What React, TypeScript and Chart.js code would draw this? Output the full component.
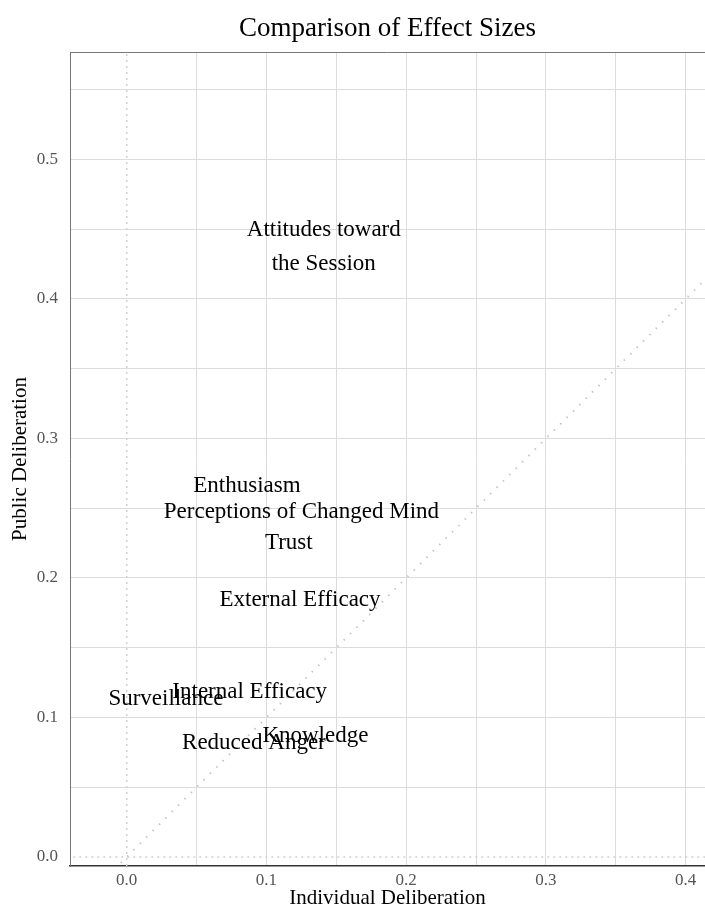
import React, { useEffect, useRef } from 'react';
import { Chart, registerables } from 'chart.js';

Chart.register(...registerables);

const TITLE = 'Comparison of Effect Sizes';
const X_TITLE = 'Individual Deliberation';
const Y_TITLE = 'Public Deliberation';

const OUTCOMES = [
  'Attitudes toward\nthe Session',
  'Enthusiasm',
  'Perceptions of Changed Mind',
  'Trust',
  'External Efficacy',
  'Internal Efficacy',
  'Surveillance',
  'Knowledge',
  'Reduced Anger',
];
const INDIVIDUAL = [0.141, 0.086, 0.125, 0.116, 0.124, 0.088, 0.028, 0.135, 0.091];
const PUBLIC = [0.437, 0.266, 0.247, 0.225, 0.184, 0.118, 0.113, 0.087, 0.082];

const X_TICKS = [0, 0.05, 0.1, 0.15, 0.2, 0.25, 0.3, 0.35, 0.4];
const Y_TICKS = [0, 0.05, 0.1, 0.15, 0.2, 0.25, 0.3, 0.35, 0.4, 0.45, 0.5, 0.55];
const X_MIN = -0.0406;
const X_MAX = 0.4138;
const Y_MIN = -0.0065;
const Y_MAX = 0.577;
const DIAG = [-0.1, 0.7];
const ZERO_SPAN = [-1, 1];

const SERIF = '"Liberation Serif", "Times New Roman", serif';

const isMajor = (v: number) => Math.abs(v * 10 - Math.round(v * 10)) < 1e-6;

const overlayPlugin = {
  id: 'overlay',
  afterDatasetsDraw(chart: any) {
    const { ctx, chartArea } = chart;
    const meta = chart.getDatasetMeta(3);
    ctx.save();
    // top border
    ctx.strokeStyle = '#777777';
    ctx.lineWidth = 1;
    ctx.beginPath();
    ctx.moveTo(chartArea.left, chartArea.top + 0.5);
    ctx.lineTo(chartArea.right, chartArea.top + 0.5);
    ctx.stroke();
    // labels
    ctx.fillStyle = '#000000';
    ctx.textAlign = 'center';
    ctx.textBaseline = 'middle';
    ctx.font = '23px ' + SERIF;
    meta.data.forEach((pt: any, i: number) => {
      const lines = OUTCOMES[i].split('\n');
      const lh = 34;
      lines.forEach((ln, j) => {
        ctx.fillText(ln, pt.x, pt.y + (j - (lines.length - 1) / 2) * lh);
      });
    });
    // title
    ctx.font = '27px ' + SERIF;
    ctx.fillText(TITLE, (chartArea.left + chartArea.right) / 2, 29);
    ctx.restore();
  },
};

export default function App() {
  const ref = useRef<HTMLCanvasElement | null>(null);

  useEffect(() => {
    if (!ref.current) return;
    const chart = new Chart(ref.current, {
      type: 'scatter',
      data: {
        datasets: [
          {
            type: 'line',
            data: [
              { x: DIAG[0], y: DIAG[0] },
              { x: DIAG[1], y: DIAG[1] },
            ],
            borderColor: '#c8c8c8',
            borderWidth: 2,
            borderDash: [1.5, 7.5],
            pointRadius: 0,
            fill: false,
          },
          {
            type: 'line',
            data: [
              { x: 0, y: ZERO_SPAN[0] },
              { x: 0, y: ZERO_SPAN[1] },
            ],
            borderColor: '#d0d0d0',
            borderWidth: 1.5,
            borderDash: [2, 4],
            pointRadius: 0,
            fill: false,
          },
          {
            type: 'line',
            data: [
              { x: ZERO_SPAN[0], y: 0 },
              { x: ZERO_SPAN[1], y: 0 },
            ],
            borderColor: '#d0d0d0',
            borderWidth: 1.5,
            borderDash: [2, 4],
            pointRadius: 0,
            fill: false,
          },
          {
            data: INDIVIDUAL.map((x, i) => ({ x, y: PUBLIC[i] })),
            pointRadius: 0,
            pointHoverRadius: 0,
            backgroundColor: 'transparent',
            borderColor: 'transparent',
          },
        ],
      },
      options: {
        animation: false,
        responsive: false,
        devicePixelRatio: 1,
        layout: { padding: { top: 52, left: 0, right: 0, bottom: 0 } },
        plugins: {
          legend: { display: false },
          tooltip: { enabled: false },
          title: { display: false },
        },
        scales: {
          x: {
            type: 'linear',
            min: X_MIN,
            max: X_MAX,
            afterBuildTicks: (s: any) => {
              s.ticks = X_TICKS.map((v) => ({ value: v }));
            },
            afterFit: (s: any) => {
              s.height = 45;
            },
            grid: {
              drawTicks: false,
              color: (c: any) => (c.tick && c.tick.value === 0 ? 'transparent' : '#dcdcdc'),
              lineWidth: 1,
            },
            border: { display: true, color: '#333333', width: 1.5 },
            ticks: {
              padding: 4,
              color: '#555555',
              font: { family: SERIF, size: 17 },
              maxRotation: 0,
              autoSkip: false,
              callback: (v: any) => (isMajor(Number(v)) ? Number(v).toFixed(1) : ''),
            },
            title: {
              display: true,
              text: X_TITLE,
              color: '#000000',
              font: { family: SERIF, size: 21 },
              padding: { top: 0, bottom: 0 },
            },
          },
          y: {
            type: 'linear',
            min: Y_MIN,
            max: Y_MAX,
            afterBuildTicks: (s: any) => {
              s.ticks = Y_TICKS.map((v) => ({ value: v }));
            },
            afterFit: (s: any) => {
              s.width = 70;
            },
            grid: {
              drawTicks: false,
              color: (c: any) => (c.tick && c.tick.value === 0 ? 'transparent' : '#dcdcdc'),
              lineWidth: 1,
            },
            border: { display: true, color: '#777777', width: 1 },
            ticks: {
              padding: 12,
              color: '#555555',
              font: { family: SERIF, size: 17 },
              autoSkip: false,
              callback: (v: any) => (isMajor(Number(v)) ? Number(v).toFixed(1) : ''),
            },
            title: {
              display: true,
              text: Y_TITLE,
              color: '#000000',
              font: { family: SERIF, size: 21 },
              padding: { top: 8, bottom: 0 },
            },
          },
        },
      },
      plugins: [overlayPlugin],
    } as any);
    return () => chart.destroy();
  }, []);

  return (
    <div style={{ position: 'fixed', left: 0, top: 0, width: 705, height: 911, background: '#fff' }}>
      <canvas ref={ref} width={705} height={911} />
    </div>
  );
}
